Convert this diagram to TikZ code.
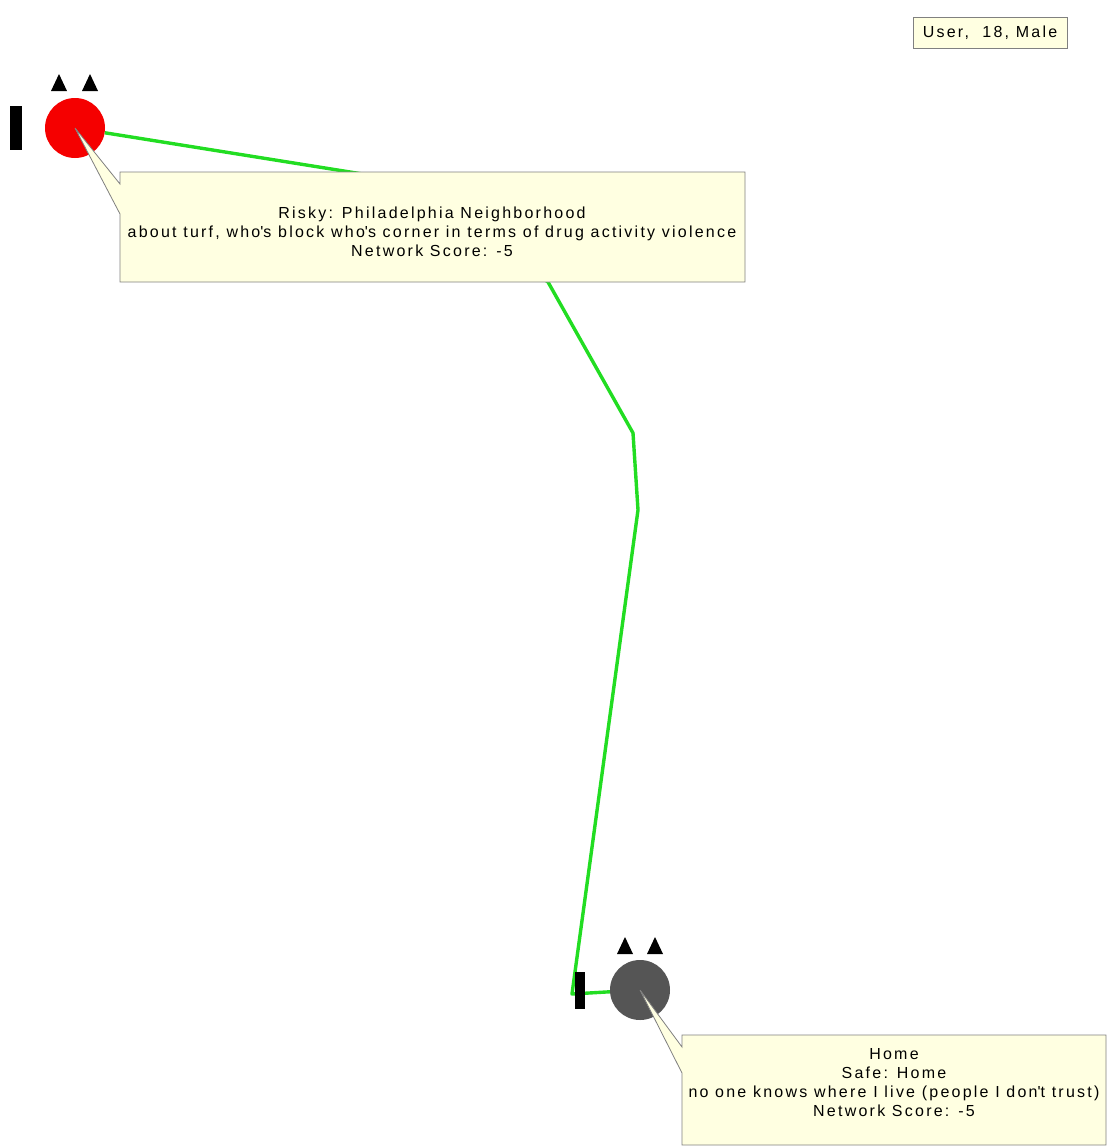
\documentclass[tikz,border=0pt]{standalone}
\usepackage{fontspec}
\setmainfont{Liberation Sans}[LetterSpace=14]
\usetikzlibrary{positioning}
\definecolor{tipfill}{RGB}{255,255,225}
\definecolor{tipline}{RGB}{128,128,128}
\definecolor{linkgreen}{RGB}{34,221,34}
\definecolor{riskred}{RGB}{245,0,0}
\definecolor{homegray}{RGB}{85,85,85}

\begin{document}
\begin{tikzpicture}[%
        x=1pt, y=-1pt,
        place/.style={ circle, minimum size=60pt, inner sep=0pt },%
        bar/.style={ fill=black, inner sep=0pt, minimum width=12pt, minimum height=44pt },%
        link/.style={ draw=linkgreen, line width=3.4pt, line join=round },%
        tip/.style={ fill=tipfill, draw=tipline, line width=0.8pt },%
        tiptext/.style={ align=center, inner sep=0pt, font=\fontsize{16}{19}\selectfont }%
      ]
      \fill[white] (0,0) rectangle (1114,1146);
      \useasboundingbox (0,0) rectangle (1114,1146);
      % places
      \node (risky) at (75,128) [place, fill=riskred]{};
      \node (home) at (640,990) [place, fill=homegray]{};
      % green track
      \draw [link] (risky) -- (400,180) -- (548,282) -- (633,433) -- (638,510) -- (572,994) -- (home);
      % markers
      \node (riskybar) at (15.5,128) [bar]{};
      \node (homebar) at (580,990.5) [bar, minimum width=10pt, minimum height=37pt]{};
      \foreach \x in {59,90} \fill (\x-8,91) -- (\x,74) -- (\x+8,91) -- cycle;
      \foreach \x in {625,655} \fill (\x-8,954) -- (\x,937) -- (\x+8,954) -- cycle;
      % user label
      \node (user) at (990,32.5) [tip, minimum width=154pt, minimum height=31pt, tiptext]{User,\ \ 18, Male};
      % callouts
      \draw [tip] (120,172) -- (745,172) -- (745,282) -- (120,282) -- (120,214) -- (risky.center) -- (120,184) -- cycle;
      \node (riskytext) at (432,232) [tiptext]{Risky: Philadelphia Neighborhood\\about turf, who\textquotesingle s block who\textquotesingle s corner in terms of drug activity violence\\Network Score: -5};
      \draw [tip] (682,1035) -- (1106,1035) -- (1106,1145) -- (682,1145) -- (682,1073) -- (home.center) -- (682,1047) -- cycle;
      \node (hometext) at (894,1083) [tiptext]{Home\\Safe: Home\\no one knows where I live (people I don\textquotesingle t trust)\\Network Score: -5};
    \end{tikzpicture}
\end{document}
